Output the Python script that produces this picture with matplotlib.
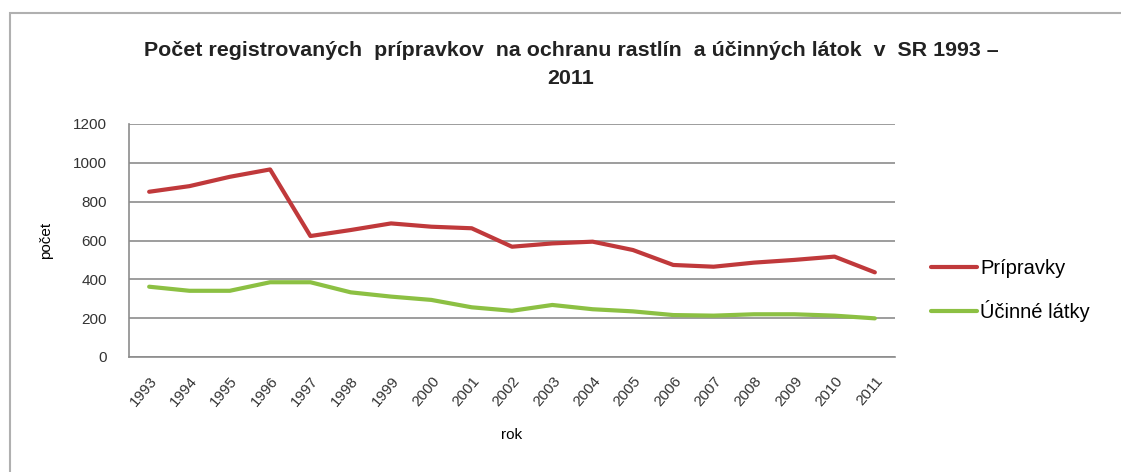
import matplotlib.pyplot as plt
from matplotlib.patches import Rectangle

# data
roky = ['1993', '1994', '1995', '1996', '1997', '1998', '1999', '2000', '2001', '2002',
        '2003', '2004', '2005', '2006', '2007', '2008', '2009', '2010', '2011']
pripravky = [851, 880, 928, 966, 623, 654, 688, 671, 663, 568,
             585, 594, 551, 474, 465, 486, 500, 517, 436]
ucinne_latky = [362, 341, 341, 385, 385, 333, 311, 294, 256, 238,
                268, 246, 235, 216, 213, 220, 220, 213, 199]

plt.rcParams['font.family'] = ['Liberation Sans', 'DejaVu Sans']

fig = plt.figure(figsize=(11.21, 4.72), dpi=100)
ax = fig.add_axes([129 / 1121, 1 - 357 / 472, (895 - 129) / 1121, (357 - 124) / 472])

# outer chart border
fig.patches.append(Rectangle((10 / 1121, -0.01), 1.1, 1 - 13 / 472 + 0.01,
                             transform=fig.transFigure, fill=False,
                             edgecolor='#b0b0b0', lw=1.5))

x = range(len(roky))
ax.plot(x, pripravky, color='#c0393b', lw=3, label='Prípravky', solid_capstyle='round')
ax.plot(x, ucinne_latky, color='#8cc043', lw=3, label='Účinné látky', solid_capstyle='round')

ax.set_xlim(-0.5, len(roky) - 0.5)
ax.set_ylim(0, 1200)
ax.set_yticks(range(0, 1201, 200))
ax.set_xticks(list(x))
ax.set_xticklabels(roky, rotation=50, ha='right', rotation_mode='anchor', fontsize=11)
ax.tick_params(axis='y', labelsize=11, length=0, pad=16, colors='#333333')
ax.tick_params(axis='x', length=0, pad=12, colors='#333333')

ax.grid(axis='y', color='#8c8c8c', lw=1.2)
ax.set_axisbelow(True)
for s in ['top', 'right']:
    ax.spines[s].set_visible(False)
for s in ['left', 'bottom']:
    ax.spines[s].set_color('#8c8c8c')
    ax.spines[s].set_linewidth(1.2)

ax.set_ylabel('počet', fontsize=11, labelpad=14)
ax.set_xlabel('rok', fontsize=11, labelpad=14)
fig.text(571 / 1121, 1 - 65 / 472,
         'Počet registrovaných  prípravkov  na ochranu rastlín  a účinných látok  v  SR 1993 –\n2011',
         ha='center', va='center', fontsize=15.4, fontweight='bold', linespacing=1.6,
         color='#222222')

ax.legend(loc='center left', bbox_to_anchor=(1.023, 0.286), frameon=False,
          fontsize=14.5, handlelength=2.3, handletextpad=0.15, labelspacing=1.1)

fig.savefig('out.png', dpi=100)
